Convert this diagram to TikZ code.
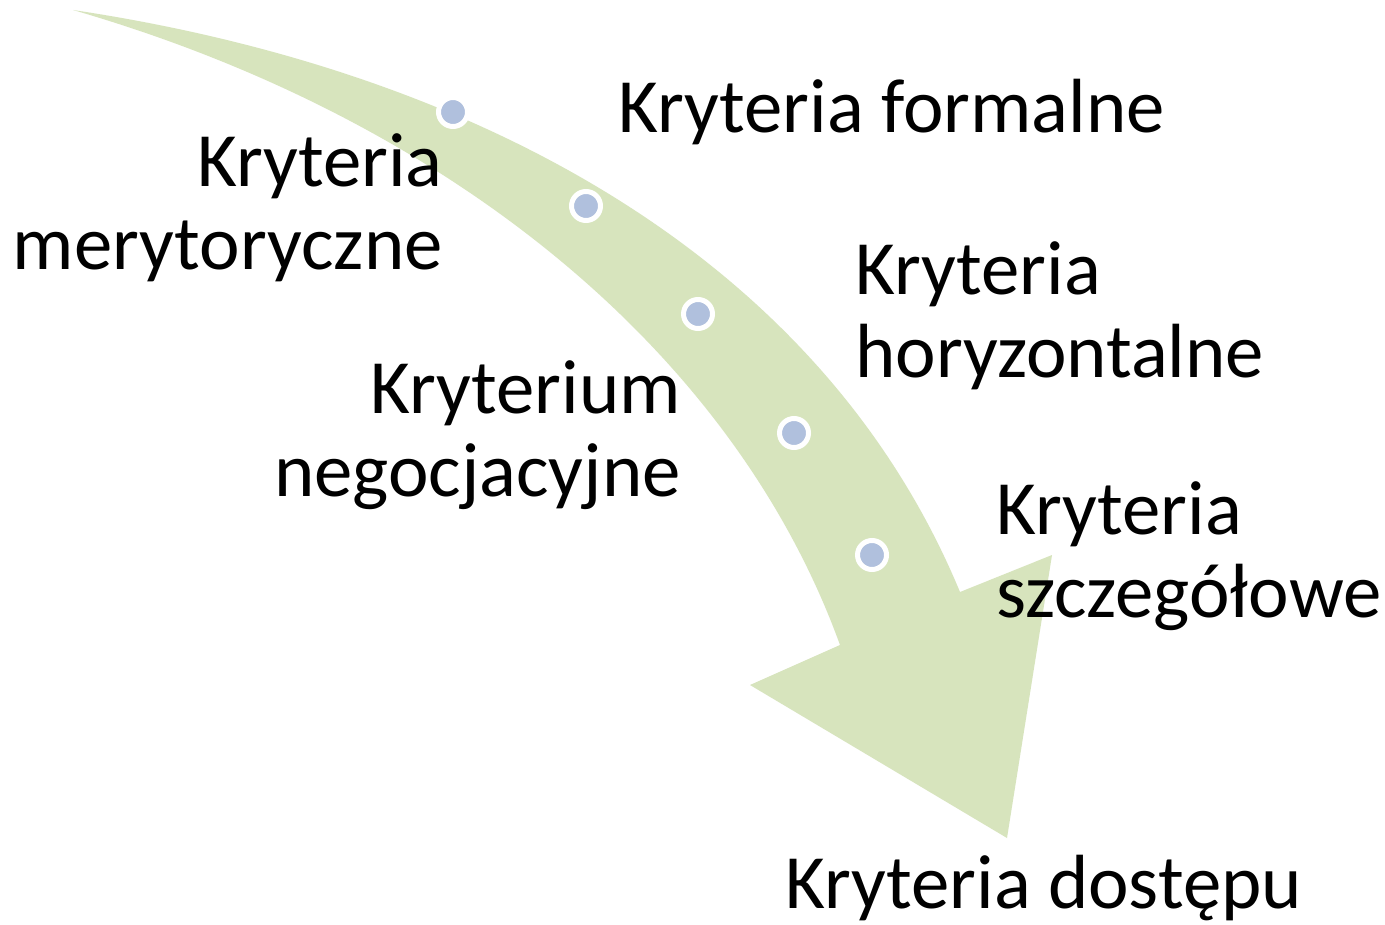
\documentclass[tikz,border=0pt]{standalone}
\usepackage{fontspec}
\setmainfont{Carlito}
\usepackage{tikz}
\usetikzlibrary{positioning}
\definecolor{arrowgreen}{RGB}{215,228,189}
\definecolor{dotblue}{RGB}{176,192,221}
\newcommand{\critdot}[2]{%
	\node[dotmark] (#1) at #2 {};
}
\tikzset{
	crit/.style={inner sep=0pt, font=\fontsize{38.4}{41.5}\selectfont},
	dotmark/.style={circle, fill=dotblue, draw=white, line width=2.5pt, minimum size=14.5pt, inner sep=0pt}
}

\begin{document}
\begin{tikzpicture}[x=0.5pt,y=-0.5pt]
	
	\useasboundingbox (0,0) rectangle (1385,925);
	\fill[white] (0,0) rectangle (1385,925);
	
	% the bent arrow
	\fill[arrowgreen] (73,10) .. controls (473,70) and (820,255) .. (960,592)
		-- (1052,555) -- (1007,838) -- (750,685) -- (840,645)
		.. controls (735,355) and (453,120) .. (73,10) -- cycle;
	
	\critdot{d1}{(453,112)}
	\critdot{d2}{(586,206)}
	\critdot{d3}{(698,314)}
	\critdot{d4}{(794,433)}
	\critdot{d5}{(872,555)}
	
	% base anchor of a two-line node sits on its last line
	\node[crit, anchor=base west] (formalne) at (618,133) {Kryteria formalne};
	\node[crit, anchor=base east, align=right] (merytoryczne) at (443,270) {Kryteria\\merytoryczne};
	\node[crit, anchor=base west, align=left] (horyzontalne) at (855,377) {Kryteria\\horyzontalne};
	\node[crit, anchor=base east, align=right] (negocjacyjne) at (681,496) {Kryterium\\negocjacyjne};
	\node[crit, anchor=base west, align=left] (szczegolowe) at (996,617) {Kryteria\\szczegółowe};
	\node[crit, anchor=base west] (dostepu) at (785,908) {Kryteria dostępu};

\end{tikzpicture}
\end{document}
